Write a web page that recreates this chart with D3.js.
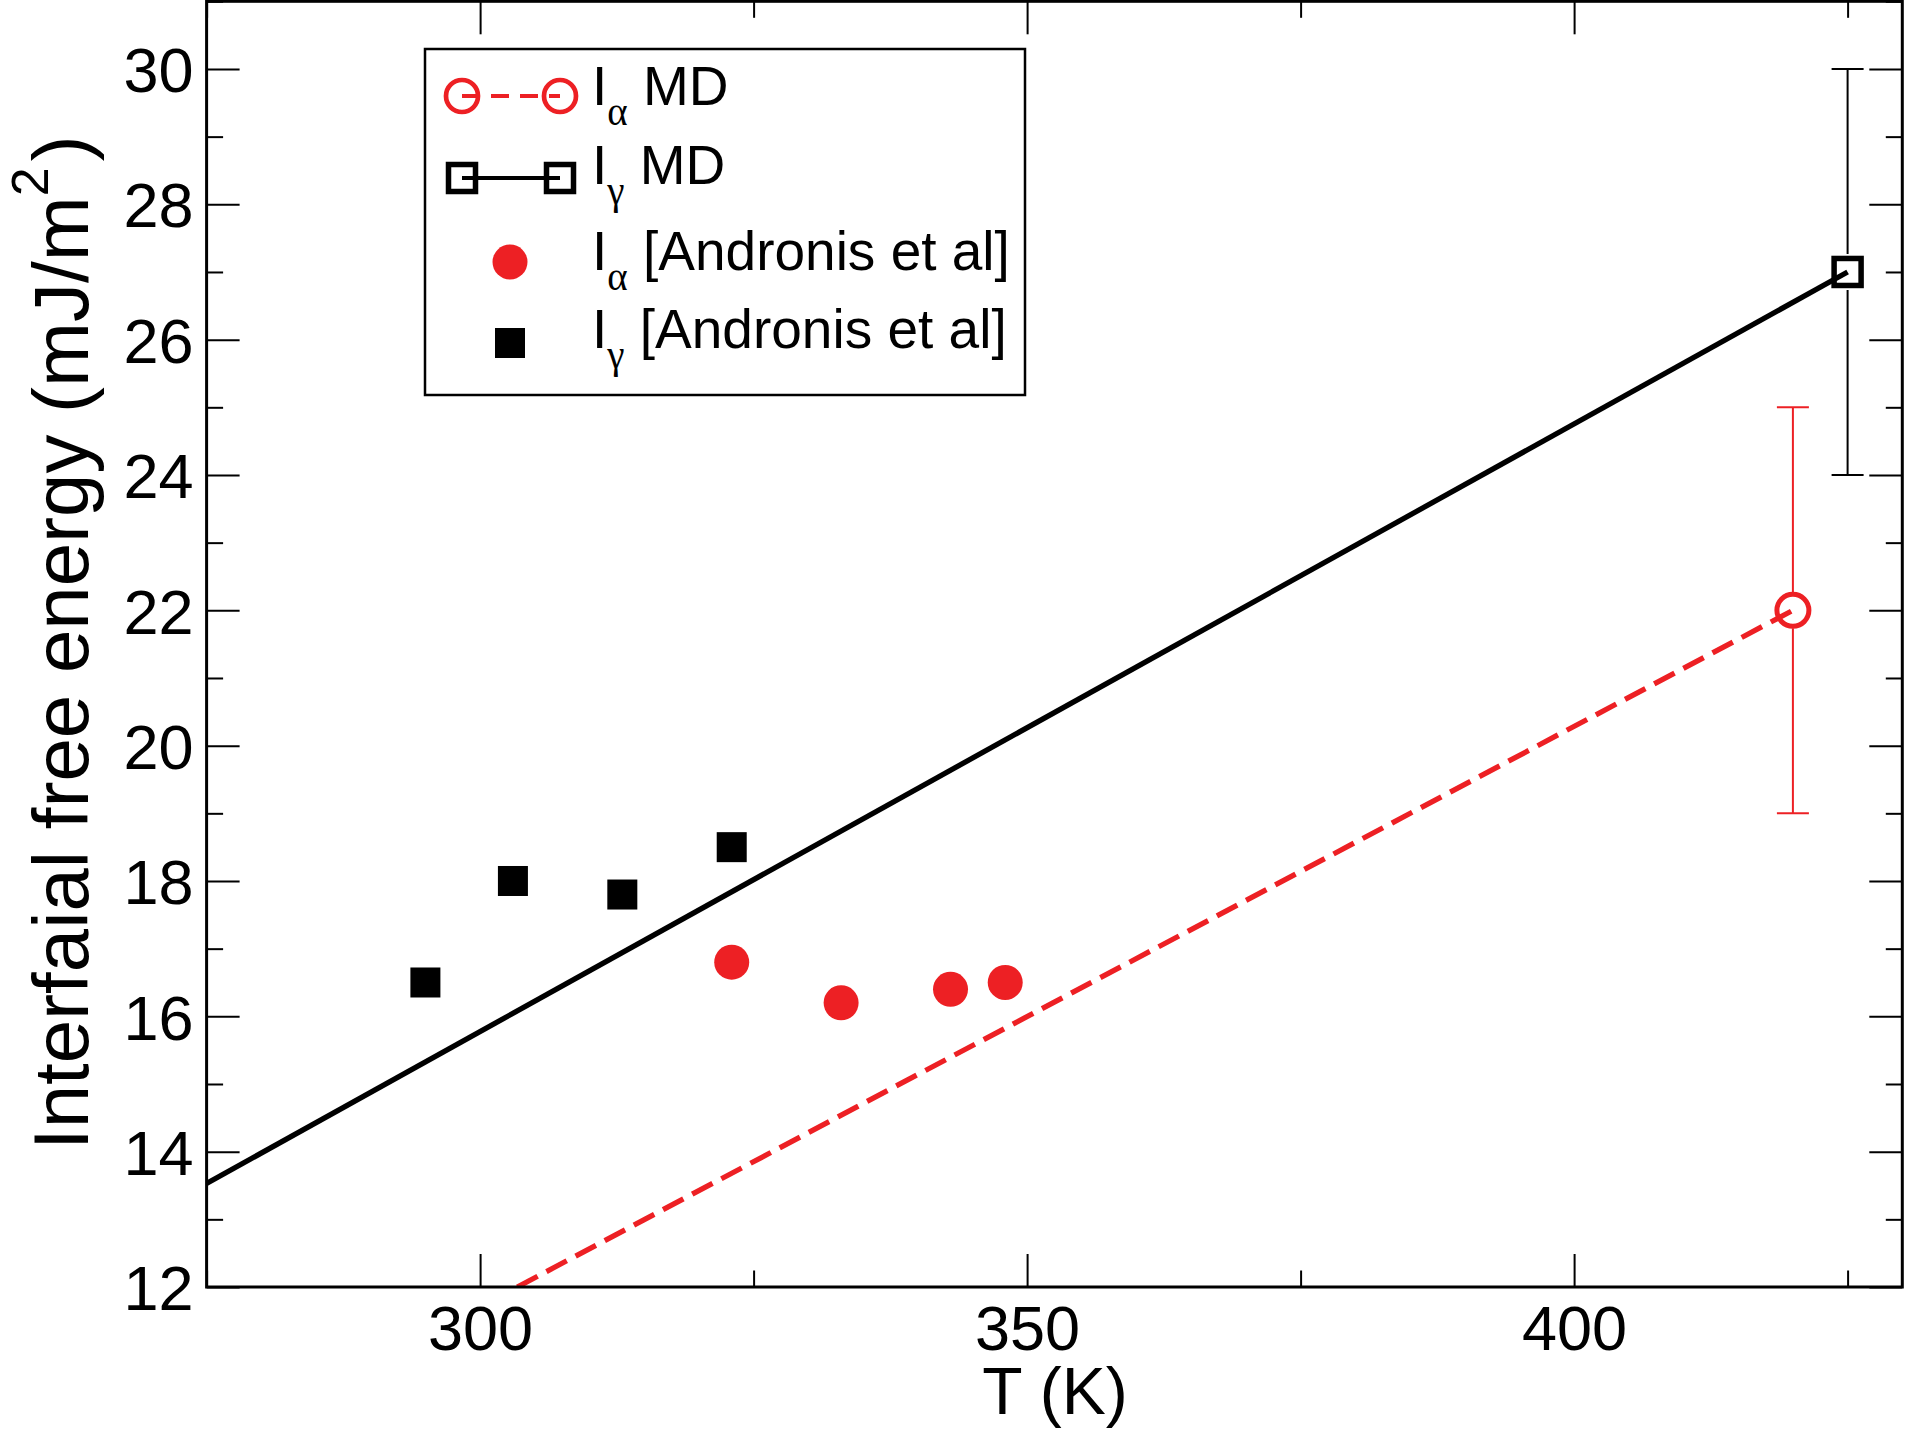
<!DOCTYPE html>
<html>
<head>
<meta charset="utf-8">
<script src="https://cdn.jsdelivr.net/npm/d3@7"></script>
<style>
body { margin: 0; background: #fff; }
text { font-family: "Liberation Sans", Arial, Helvetica, sans-serif; fill: #000; }
.greek { font-family: "Liberation Serif", "Times New Roman", serif; }
</style>
</head>
<body>
<svg id="chart" width="1905" height="1430"></svg>
<script>
// values
const mdAlphaT = [420], mdAlphaV = [22], mdAlphaLo = [19], mdAlphaHi = [25];
const mdGammaT = [425], mdGammaV = [27], mdGammaLo = [24], mdGammaHi = [30];
const alphaLineT = [303.4, 420], alphaLineV = [12, 22];
const gammaLineT = [275, 425], gammaLineV = [13.53, 27];
const expAlphaT = [323, 333, 343, 348], expAlphaV = [16.8, 16.2, 16.4, 16.5];
const expGammaT = [295, 303, 313, 323], expGammaV = [16.5, 18.0, 17.8, 18.5];
const xMajor = [300, 350, 400], xMinor = [275, 325, 375, 425];
const yMajor = [12, 14, 16, 18, 20, 22, 24, 26, 28, 30];
const yMinor = [13, 15, 17, 19, 21, 23, 25, 27, 29, 31];

const RED = '#ed2024';
const plotLeft = 206.6, plotRight = 1902.3, plotTop = 1.3, plotBottom = 1287;

const svg = d3.select('#chart');
svg.append('rect').attr('width', 1905).attr('height', 1430).attr('fill', '#fff');

const x = d3.scaleLinear().domain([275, 430]).range([plotLeft, plotRight]);
const y = d3.scaleLinear().domain([12, 31]).range([plotBottom, plotTop]);

svg.append('clipPath').attr('id', 'clip')
    .append('rect').attr('x', plotLeft).attr('y', plotTop)
    .attr('width', plotRight - plotLeft).attr('height', plotBottom - plotTop);

// axes, ticks inward on every side
const styleAxis = g => {
    g.select('.domain').remove();
    g.selectAll('line').attr('stroke', '#000').attr('stroke-width', 2);
    g.attr('font-family', null).attr('font-size', null);
    g.selectAll('text').style('font-size', '63px');
};
svg.append('g').attr('transform', `translate(0,${plotBottom})`)
    .call(d3.axisBottom(x).tickValues(xMajor).tickSizeInner(-33).tickSizeOuter(0).tickPadding(18))
    .call(styleAxis);
svg.append('g').attr('transform', `translate(0,${plotBottom})`)
    .call(d3.axisBottom(x).tickValues(xMinor).tickSizeInner(-16.5).tickSizeOuter(0).tickFormat(''))
    .call(styleAxis);
svg.append('g').attr('transform', `translate(0,${plotTop})`)
    .call(d3.axisTop(x).tickValues(xMajor).tickSizeInner(-33).tickSizeOuter(0).tickFormat(''))
    .call(styleAxis);
svg.append('g').attr('transform', `translate(0,${plotTop})`)
    .call(d3.axisTop(x).tickValues(xMinor).tickSizeInner(-16.5).tickSizeOuter(0).tickFormat(''))
    .call(styleAxis);
svg.append('g').attr('transform', `translate(${plotLeft},0)`)
    .call(d3.axisLeft(y).tickValues(yMajor).tickSizeInner(-33).tickSizeOuter(0).tickPadding(13))
    .call(styleAxis)
    .call(g => g.selectAll('text').attr('dy', '0.36em'));
svg.append('g').attr('transform', `translate(${plotLeft},0)`)
    .call(d3.axisLeft(y).tickValues(yMinor).tickSizeInner(-16.5).tickSizeOuter(0).tickFormat(''))
    .call(styleAxis);
svg.append('g').attr('transform', `translate(${plotRight},0)`)
    .call(d3.axisRight(y).tickValues(yMajor).tickSizeInner(-33).tickSizeOuter(0).tickFormat(''))
    .call(styleAxis);
svg.append('g').attr('transform', `translate(${plotRight},0)`)
    .call(d3.axisRight(y).tickValues(yMinor).tickSizeInner(-16.5).tickSizeOuter(0).tickFormat(''))
    .call(styleAxis);

// axis titles
svg.append('text')
    .attr('x', 1055).attr('y', 1414)
    .attr('text-anchor', 'middle')
    .style('font-size', '66px')
    .text('T (K)');

const yTitle = svg.append('text')
    .attr('transform', 'translate(88,1150) rotate(-90)')
    .style('font-size', '78px');
yTitle.append('tspan').text('Interfaial free energy (mJ/m');
yTitle.append('tspan').attr('dy', -40).style('font-size', '52px').text('2');
yTitle.append('tspan').attr('dy', 40).attr('dx', 6).text(')');

// fit lines
const line = d3.line().x(d => x(d[0])).y(d => y(d[1]));
const plot = svg.append('g').attr('clip-path', 'url(#clip)');

plot.append('path')
    .datum(d3.zip(gammaLineT, gammaLineV))
    .attr('d', line)
    .attr('fill', 'none').attr('stroke', '#000').attr('stroke-width', 5.3);

plot.append('path')
    .datum(d3.zip(alphaLineT, alphaLineV))
    .attr('d', line)
    .attr('fill', 'none').attr('stroke', RED).attr('stroke-width', 5.3)
    .attr('stroke-dasharray', '23,10');

// error bars, drawn from the symbol edge outward
const errorBars = (T, V, lo, hi, color) => {
    const g = svg.append('g').attr('stroke', color).attr('stroke-width', 2);
    T.forEach((t, i) => {
        const cx = x(t), cy = y(V[i]);
        g.append('line').attr('x1', cx).attr('x2', cx).attr('y1', y(hi[i])).attr('y2', cy - 18);
        g.append('line').attr('x1', cx).attr('x2', cx).attr('y1', cy + 18).attr('y2', y(lo[i]));
        g.append('line').attr('x1', cx - 16).attr('x2', cx + 16).attr('y1', y(hi[i])).attr('y2', y(hi[i]));
        g.append('line').attr('x1', cx - 16).attr('x2', cx + 16).attr('y1', y(lo[i])).attr('y2', y(lo[i]));
    });
};
errorBars(mdGammaT, mdGammaV, mdGammaLo, mdGammaHi, '#000');
errorBars(mdAlphaT, mdAlphaV, mdAlphaLo, mdAlphaHi, RED);

// symbols
svg.append('g').selectAll('rect')
    .data(d3.zip(mdGammaT, mdGammaV)).join('rect')
    .attr('x', d => x(d[0]) - 13.5).attr('y', d => y(d[1]) - 13.5)
    .attr('width', 27).attr('height', 27)
    .attr('fill', 'none').attr('stroke', '#000').attr('stroke-width', 5.5);

svg.append('g').selectAll('circle')
    .data(d3.zip(mdAlphaT, mdAlphaV)).join('circle')
    .attr('cx', d => x(d[0])).attr('cy', d => y(d[1])).attr('r', 16)
    .attr('fill', 'none').attr('stroke', RED).attr('stroke-width', 5);

svg.append('g').selectAll('rect')
    .data(d3.zip(expGammaT, expGammaV)).join('rect')
    .attr('x', d => x(d[0]) - 15).attr('y', d => y(d[1]) - 15)
    .attr('width', 30).attr('height', 30)
    .attr('fill', '#000');

svg.append('g').selectAll('circle')
    .data(d3.zip(expAlphaT, expAlphaV)).join('circle')
    .attr('cx', d => x(d[0])).attr('cy', d => y(d[1])).attr('r', 17.5)
    .attr('fill', RED);

// frame
svg.append('rect')
    .attr('x', plotLeft).attr('y', plotTop)
    .attr('width', plotRight - plotLeft).attr('height', plotBottom - plotTop)
    .attr('fill', 'none').attr('stroke', '#000').attr('stroke-width', 3);

// legend
const legend = svg.append('g');
legend.append('rect')
    .attr('x', 425).attr('y', 49).attr('width', 600).attr('height', 346)
    .attr('fill', '#fff').attr('stroke', '#000').attr('stroke-width', 2.5);

const legendLabel = (yb, greek, rest) => {
    const t = legend.append('text').attr('x', 592).attr('y', yb)
        .style('font-size', '55px').style('white-space', 'pre');
    t.append('tspan').text('I');
    t.append('tspan').attr('class', 'greek').attr('dy', 20).style('font-size', '39px').text(greek);
    t.append('tspan').attr('dy', -20).text(' ' + rest);
};

// row 1: Iα MD
legend.append('line').attr('x1', 462).attr('x2', 560).attr('y1', 96).attr('y2', 96)
    .attr('stroke', RED).attr('stroke-width', 4).attr('stroke-dasharray', '18,11');
[462, 560].forEach(cx => legend.append('circle').attr('cx', cx).attr('cy', 96).attr('r', 16)
    .attr('fill', 'none').attr('stroke', RED).attr('stroke-width', 4.7));
legendLabel(105, 'α', 'MD');

// row 2: Iγ MD
legend.append('line').attr('x1', 462).attr('x2', 560).attr('y1', 178).attr('y2', 178)
    .attr('stroke', '#000').attr('stroke-width', 4);
[462, 560].forEach(cx => legend.append('rect').attr('x', cx - 13.5).attr('y', 178 - 13.5)
    .attr('width', 27).attr('height', 27)
    .attr('fill', 'none').attr('stroke', '#000').attr('stroke-width', 5.5));
legendLabel(184, 'γ', 'MD');

// row 3: Iα Andronis
legend.append('circle').attr('cx', 510).attr('cy', 262).attr('r', 17.5).attr('fill', RED);
legendLabel(270, 'α', '[Andronis et al]');

// row 4: Iγ Andronis
legend.append('rect').attr('x', 495).attr('y', 328).attr('width', 30).attr('height', 30).attr('fill', '#000');
legendLabel(348, 'γ', '[Andronis et al]');
</script>
</body>
</html>
